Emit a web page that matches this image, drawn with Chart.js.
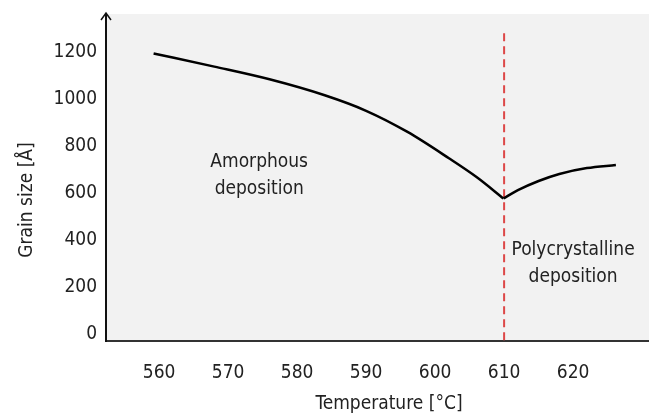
<!DOCTYPE html>
<html lang="en">
<head>
  <meta charset="UTF-8" />
  <title>Grain size vs temperature</title>
  <script src="https://cdn.jsdelivr.net/npm/chart.js"></script>
  <style>
    body { margin: 0; background: #fff; }
    #wrap { width: 649px; height: 420px; }
  </style>
</head>
<body>
  <div id="wrap"><canvas id="grainChart" width="649" height="420"></canvas></div>
  <script>
    const amorphTemps = [559.2, 568, 576, 584, 590, 596, 602, 606, 609.9];
    const amorphGrain = [1194, 1138, 1084, 1016, 950, 860, 748, 668, 577];
    const polyTemps = [609.9, 612, 615, 618, 622, 626.2];
    const polyGrain = [577, 612, 651, 681, 706, 719];
    const transitionTemp = [610, 610];
    const transitionGrain = [1280, -30];
    const xTicks = [560, 570, 580, 590, 600, 610, 620];
    const yTicks = [0, 200, 400, 600, 800, 1000, 1200];

    const FONT = '"DejaVu Sans Condensed", "DejaVu Sans", sans-serif';
    const TEXT = '#222';

    const toPoints = (xs, ys) => xs.map((x, i) => ({ x: x, y: ys[i] }));

    // plot background, arrow, titles and the two region labels
    const decor = {
      id: 'decor',
      beforeDraw(chart) {
        const { ctx, chartArea: a } = chart;
        ctx.save();
        ctx.fillStyle = '#f2f2f2';
        ctx.fillRect(a.left, a.top, a.right - a.left, a.bottom - a.top);
        ctx.restore();
      },
      afterDraw(chart) {
        const { ctx, chartArea: a, scales } = chart;
        ctx.save();
        // arrow head on y axis
        ctx.strokeStyle = '#111';
        ctx.lineWidth = 1.5;
        ctx.beginPath();
        ctx.moveTo(a.left - 5, a.top + 6);
        ctx.lineTo(a.left, a.top - 1);
        ctx.lineTo(a.left + 5, a.top + 6);
        ctx.stroke();

        ctx.fillStyle = TEXT;
        ctx.font = '19px ' + FONT;
        ctx.textAlign = 'center';
        ctx.textBaseline = 'middle';

        const x = scales.x, y = scales.y;
        ctx.fillText('Amorphous', x.getPixelForValue(574.5), y.getPixelForValue(732));
        ctx.fillText('deposition', x.getPixelForValue(574.5), y.getPixelForValue(617));
        ctx.fillText('Polycrystalline', x.getPixelForValue(620), y.getPixelForValue(357));
        ctx.fillText('deposition', x.getPixelForValue(620), y.getPixelForValue(243));

        // axis titles
        ctx.fillText('Temperature [°C]', 389, 404);
        ctx.translate(27, 200);
        ctx.rotate(-Math.PI / 2);
        ctx.fillText('Grain size [Å]', 0, 0);
        ctx.restore();
      }
    };

    new Chart(document.getElementById('grainChart'), {
      type: 'line',
      data: {
        datasets: [
          {
            data: toPoints(amorphTemps, amorphGrain),
            borderColor: '#000',
            borderWidth: 2.5,
            pointRadius: 0,
            cubicInterpolationMode: 'monotone'
          },
          {
            data: toPoints(polyTemps, polyGrain),
            borderColor: '#000',
            borderWidth: 2.5,
            pointRadius: 0,
            cubicInterpolationMode: 'monotone'
          },
          {
            data: toPoints(transitionTemp, transitionGrain),
            borderColor: '#dd4848',
            borderWidth: 2,
            borderDash: [8, 5],
            pointRadius: 0
          }
        ]
      },
      options: {
        responsive: false,
        devicePixelRatio: 1,
        animation: false,
        layout: { padding: { top: 14, right: 0, left: 0, bottom: 0 } },
        plugins: {
          legend: { display: false },
          tooltip: { enabled: false }
        },
        scales: {
          x: {
            type: 'linear',
            min: 552.3,
            max: 631,
            grid: { display: false, drawTicks: false },
            border: { display: true, color: '#333', width: 2 },
            afterBuildTicks(scale) { scale.ticks = xTicks.map(v => ({ value: v })); },
            afterFit(scale) {
              scale.height = 79;
              scale.paddingLeft = 0;
              scale.paddingRight = 0;
            },
            ticks: {
              color: TEXT,
              font: { family: FONT, size: 19 },
              padding: 21,
              maxRotation: 0,
              callback: v => String(v)
            }
          },
          y: {
            type: 'linear',
            min: -30,
            max: 1362,
            grid: { display: false, drawTicks: false },
            border: { display: true, color: '#111', width: 2 },
            afterBuildTicks(scale) { scale.ticks = yTicks.map(v => ({ value: v })); },
            afterFit(scale) {
              scale.width = 106;
              scale.paddingTop = 0;
              scale.paddingBottom = 0;
            },
            ticks: {
              color: TEXT,
              font: { family: FONT, size: 19 },
              padding: 9,
              callback: v => String(v)
            }
          }
        }
      },
      plugins: [decor]
    });
  </script>
</body>
</html>
